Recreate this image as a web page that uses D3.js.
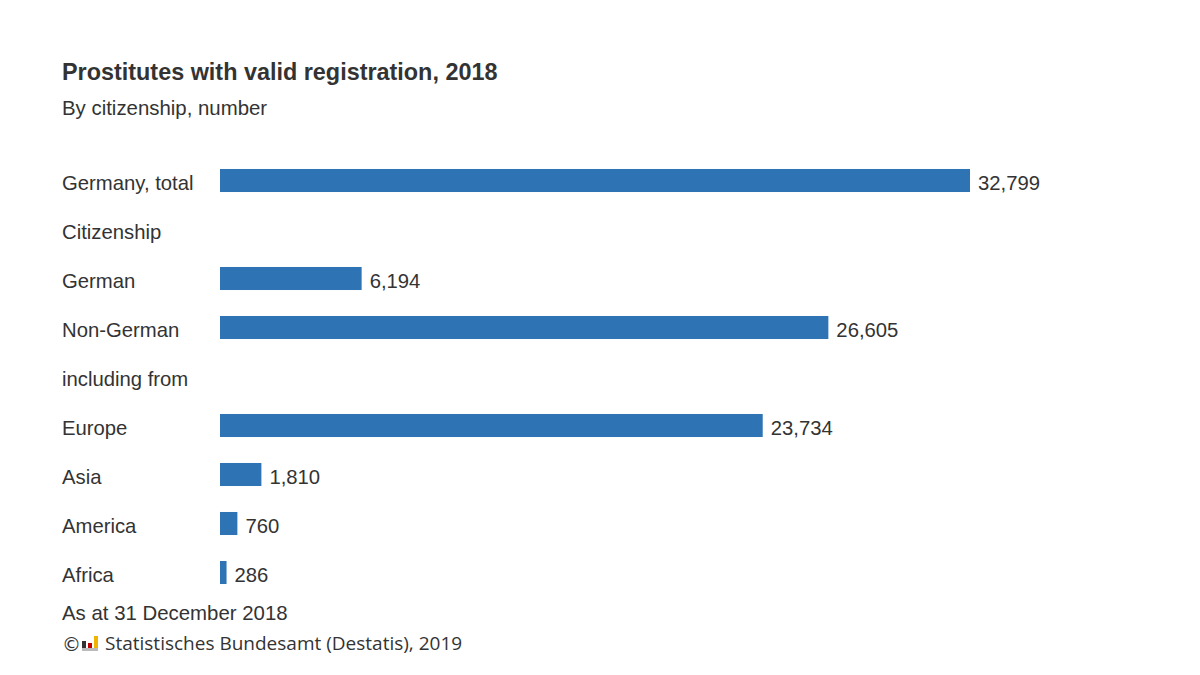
<!DOCTYPE html>
<html><head><meta charset="utf-8">
<script src="https://cdn.jsdelivr.net/npm/d3@7"></script>
<style>body{margin:0;background:#fff}svg{display:block}</style>
</head><body>
<script>
const categories = ["Germany, total","Citizenship","German","Non-German","including from","Europe","Asia","America","Africa"];
const values = [32799, null, 6194, 26605, null, 23734, 1810, 760, 286];
const title = "Prostitutes with valid registration, 2018";
const subtitle = "By citizenship, number";
const note = "As at 31 December 2018";
const source = "Statistisches Bundesamt (Destatis), 2019";

const W = 1200, H = 675;
const svg = d3.select("body").append("svg").attr("width", W).attr("height", H);
const font = "Liberation Sans, Arial, sans-serif";
const txt = "#333333";

svg.append("text").attr("x", 62).attr("y", 80).attr("font-family", font).attr("font-size", 23.4)
  .attr("font-weight", "bold").attr("fill", txt).text(title);
svg.append("text").attr("x", 62).attr("y", 115).attr("font-family", font).attr("font-size", 20.4)
  .attr("fill", txt).text(subtitle);

const x = d3.scaleLinear().domain([0, 32799]).range([220, 970]);
const y = d3.scaleBand().domain(categories).range([156, 597]).paddingInner(0.53).paddingOuter(0.265);

const rows = svg.append("g");
categories.forEach((c, i) => {
  const yc = y(c) + y.bandwidth() / 2 + 2;
  rows.append("text").attr("x", 62).attr("y", yc).attr("dy", "0.36em")
    .attr("font-family", font).attr("font-size", 20.3).attr("fill", txt).text(c);
  const v = values[i];
  if (v != null) {
    const w = Math.max(x(v) - x(0), 5);
    rows.append("rect").attr("x", x(0)).attr("y", y(c)).attr("width", w).attr("height", y.bandwidth())
      .attr("fill", "#2e74b5");
    rows.append("text").attr("x", x(0) + w + 8).attr("y", yc).attr("dy", "0.36em")
      .attr("font-family", font).attr("font-size", 20.3).attr("fill", txt).text(d3.format(",")(v));
  }
});

svg.append("text").attr("x", 62).attr("y", 620).attr("font-family", font).attr("font-size", 20.4)
  .attr("fill", txt).text(note);

// source line with logo
svg.append("text").attr("x", 62).attr("y", 651).attr("font-family", "DejaVu Sans, sans-serif").attr("font-size", 19)
  .attr("fill", txt).text("©");
const lg = svg.append("g").attr("transform", "translate(82,636)");
lg.append("rect").attr("x", 0).attr("y", 5).attr("width", 4).attr("height", 7).attr("fill", "#333");
lg.append("rect").attr("x", 6).attr("y", 7).attr("width", 4).attr("height", 5).attr("fill", "#c00000");
lg.append("rect").attr("x", 12).attr("y", 0).attr("width", 4).attr("height", 12).attr("fill", "#f0b400");
lg.append("rect").attr("x", 0).attr("y", 12).attr("width", 16).attr("height", 3).attr("fill", "#bbb");
svg.append("text").attr("x", 105).attr("y", 650).attr("font-family", "Open Sans, sans-serif").attr("font-size", 19)
  .attr("fill", txt).text(source);
</script>
</body></html>
